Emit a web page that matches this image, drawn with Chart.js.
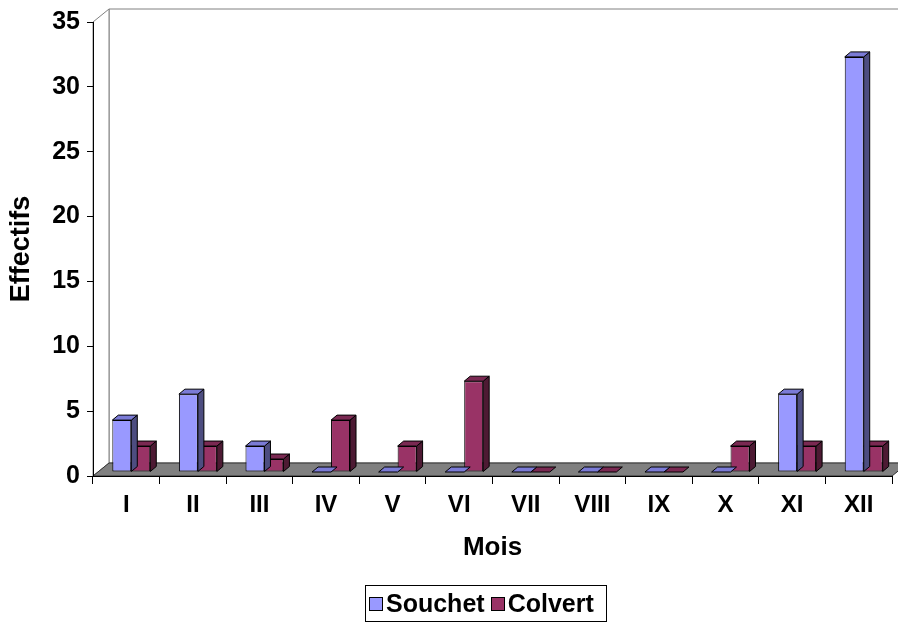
<!DOCTYPE html>
<html lang="fr">
<head>
    <meta charset="UTF-8">
    <title>Effectifs par mois</title>
    <script src="https://cdn.jsdelivr.net/npm/chart.js"></script>
    <style>
body {
    margin: 0;
    padding: 0;
    background-color: #fff;
    font-family: "Liberation Sans", Arial, sans-serif;
}

.wrap {
    position: relative;
    width: 898px;
    height: 623px;
    overflow: hidden;
}

.legend {
    position: absolute;
    left: 365px;
    top: 585px;
    width: 242px;
    height: 37px;
    border: 1px solid #000;
    box-sizing: border-box;
    display: flex;
    align-items: center;
    padding-left: 3px;
    font-weight: bold;
    font-size: 25px;
    color: #000;
}

.legend .sw {
    width: 12px;
    height: 12px;
    border: 1px solid #000;
    margin-right: 3px;
}

.legend .item {
    display: flex;
    align-items: center;
    margin-right: 6px;
}
    </style>
</head>
<body>
    <div class="wrap">
        <canvas id="chart" width="898" height="623"></canvas>
        <div class="legend" id="legend"></div>
    </div>

    <script>
        // data
        const months = ['I', 'II', 'III', 'IV', 'V', 'VI', 'VII', 'VIII', 'IX', 'X', 'XI', 'XII'];
        const souchet = [4, 6, 2, 0, 0, 0, 0, 0, 0, 0, 6, 32];
        const colvert = [2, 2, 1, 4, 2, 7, 0, 0, 0, 2, 2, 2];
        const seriesNames = ['Souchet', 'Colvert'];
        const yMin = 0;
        const yMax = 35;
        const yStep = 5;

        const frontColors = ['#9999FF', '#993366'];
        const topColors = ['#7B7BD6', '#7A2952'];
        const sideColors = ['#4D4D80', '#4D1A33'];

        const FONT = '"Liberation Sans", Arial, sans-serif';

        // depth of the box (walls / floor) and of each bar
        const wallDx = 16, wallDy = -13;
        const barShiftX = 5, barShiftY = -4;
        const barDx = 6, barDy = -5;

        function poly(ctx, pts, fill, stroke) {
            ctx.beginPath();
            ctx.moveTo(pts[0][0], pts[0][1]);
            for (let i = 1; i < pts.length; i++) ctx.lineTo(pts[i][0], pts[i][1]);
            ctx.closePath();
            if (fill) { ctx.fillStyle = fill; ctx.fill(); }
            if (stroke) { ctx.strokeStyle = stroke; ctx.lineWidth = 1; ctx.stroke(); }
        }

        // walls and floor, drawn before the axes
        const boxPlugin = {
            id: 'box3d',
            beforeDraw(chart) {
                const { ctx, chartArea: a } = chart;
                const L = a.left, R = a.right, T = a.top, B = a.bottom;
                ctx.save();
                // back wall
                poly(ctx, [[L + wallDx, T + wallDy], [R + wallDx, T + wallDy], [R + wallDx, B + wallDy], [L + wallDx, B + wallDy]], '#fff', '#808080');
                // left wall
                poly(ctx, [[L, T], [L + wallDx, T + wallDy], [L + wallDx, B + wallDy], [L, B]], '#fff', '#808080');
                // floor
                poly(ctx, [[L, B], [L + wallDx, B + wallDy], [R + wallDx, B + wallDy], [R, B]], '#808080', '#333');
                ctx.restore();
            },
            beforeDatasetsDraw(chart) {
                chart.ctx.save();
                chart.ctx.translate(barShiftX, barShiftY);
            },
            afterDatasetDraw(chart, args) {
                const ctx = chart.ctx;
                const i = args.index;
                args.meta.data.forEach(bar => {
                    const p = bar.getProps(['x', 'y', 'base', 'width'], true);
                    const l = p.x - p.width / 2, r = p.x + p.width / 2;
                    const top = Math.min(p.y, p.base), bot = Math.max(p.y, p.base);
                    // side face
                    if (bot - top > 0) {
                        poly(ctx, [[r, top], [r + barDx, top + barDy], [r + barDx, bot + barDy], [r, bot]], sideColors[i], '#000');
                    }
                    // top face
                    poly(ctx, [[l, top], [l + barDx, top + barDy], [r + barDx, top + barDy], [r, top]], topColors[i], '#000');
                });
            },
            afterDatasetsDraw(chart) {
                chart.ctx.restore();
            }
        };

        const ctx = document.getElementById('chart').getContext('2d');
        const chart = new Chart(ctx, {
            type: 'bar',
            data: {
                labels: months,
                datasets: [
                    {
                        label: seriesNames[0],
                        data: souchet,
                        backgroundColor: frontColors[0],
                        borderColor: '#000',
                        borderWidth: 1,
                        borderSkipped: false,
                        clip: false
                    },
                    {
                        label: seriesNames[1],
                        data: colvert,
                        backgroundColor: frontColors[1],
                        borderColor: '#000',
                        borderWidth: 1,
                        borderSkipped: false,
                        clip: false
                    }
                ]
            },
            options: {
                responsive: false,
                animation: false,
                layout: {
                    padding: { top: 20, right: 6, left: 0, bottom: 47 }
                },
                datasets: {
                    bar: {
                        categoryPercentage: 0.57,
                        barPercentage: 1
                    }
                },
                plugins: {
                    legend: { display: false },
                    tooltip: { enabled: false }
                },
                scales: {
                    x: {
                        grid: {
                            offset: true,
                            drawOnChartArea: false,
                            drawTicks: true,
                            tickLength: 8,
                            color: '#000'
                        },
                        border: { display: true, color: '#000', width: 1 },
                        ticks: {
                            color: '#000',
                            padding: 7,
                            font: { family: FONT, size: 24, weight: 'bold' }
                        },
                        title: {
                            display: true,
                            text: 'Mois',
                            color: '#000',
                            padding: { top: 0, bottom: 13 },
                            font: { family: FONT, size: 26, weight: 'bold' }
                        },
                        afterFit(scale) { scale.height = 100; }
                    },
                    y: {
                        min: yMin,
                        max: yMax,
                        grid: {
                            drawOnChartArea: false,
                            drawTicks: true,
                            tickLength: 6,
                            color: '#000'
                        },
                        border: { display: true, color: '#000', width: 1 },
                        ticks: {
                            stepSize: yStep,
                            color: '#000',
                            padding: 7,
                            font: { family: FONT, size: 25, weight: 'bold' }
                        },
                        title: {
                            display: true,
                            text: 'Effectifs',
                            color: '#000',
                            padding: { top: 5, bottom: 0 },
                            font: { family: FONT, size: 27, weight: 'bold' }
                        },
                        afterFit(scale) { scale.width = 93; }
                    }
                }
            },
            plugins: [boxPlugin]
        });

        // legend as real text under the chart
        const legendEl = document.getElementById('legend');
        seriesNames.forEach((name, i) => {
            const item = document.createElement('div');
            item.className = 'item';
            const sw = document.createElement('span');
            sw.className = 'sw';
            sw.style.backgroundColor = frontColors[i];
            const txt = document.createElement('span');
            txt.textContent = name;
            item.appendChild(sw);
            item.appendChild(txt);
            legendEl.appendChild(item);
        });
    </script>
</body>
</html>
